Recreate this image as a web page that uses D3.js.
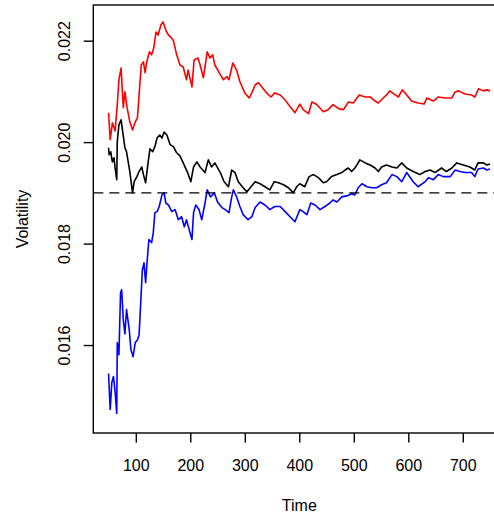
<!DOCTYPE html>
<html>
<head>
<meta charset="utf-8">
<script src="https://cdn.jsdelivr.net/npm/d3@7"></script>
<style>
  html, body { margin: 0; padding: 0; background: #fff; }
  svg { display: block; font-family: "Liberation Sans", Arial, Helvetica, sans-serif; }
</style>
</head>
<body>
<svg id="chart" width="494" height="520"></svg>
<script>
// Upper band (red)
const redTime = [50,53,57,62,66,69,73,77,80,84,89,94,99,103,106,110,114,117,120,125,129,133,137,141,146,150,155,160,165,169,175,181,187,193,196,203,207,214,218,224,231,236,241,245,255,261,267,271,278,285,291,300,308,313,319,325,331,340,348,355,365,374,383,392,401,407,417,423,432,444,453,462,472,481,490,499,510,521,530,539,545,554,560,566,576,582,589,597,606,618,629,634,646,655,667,680,686,692,704,716,722,729,738,744,750];
const redVol = [0.02058,0.02005,0.02038,0.02022,0.02074,0.02123,0.02146,0.02068,0.02099,0.02068,0.02040,0.02024,0.02040,0.02048,0.02093,0.02152,0.02158,0.02137,0.02158,0.02178,0.02172,0.02186,0.02217,0.02211,0.02231,0.02237,0.02221,0.02211,0.02206,0.02200,0.02172,0.02152,0.02148,0.02123,0.02142,0.02109,0.02162,0.02166,0.02152,0.02127,0.02178,0.02166,0.02172,0.02152,0.02133,0.02123,0.02129,0.02123,0.02156,0.02142,0.02119,0.02097,0.02087,0.02097,0.02113,0.02117,0.02109,0.02097,0.02089,0.02097,0.02093,0.02083,0.02070,0.02058,0.02075,0.02064,0.02056,0.02079,0.02074,0.02060,0.02064,0.02074,0.02066,0.02064,0.02079,0.02077,0.02093,0.02089,0.02089,0.02081,0.02077,0.02087,0.02093,0.02101,0.02093,0.02089,0.02103,0.02093,0.02081,0.02077,0.02075,0.02087,0.02081,0.02089,0.02087,0.02087,0.02099,0.02101,0.02095,0.02093,0.02089,0.02105,0.02101,0.02103,0.02101];

// Estimate (black)
const estTime = [50,51,54,57,60,62,65,66,69,73,76,80,83,89,94,97,102,106,111,114,118,122,126,131,135,139,144,148,152,157,163,169,175,181,187,195,201,206,212,218,227,233,239,245,255,262,270,276,282,288,297,304,310,319,328,337,346,354,362,371,380,389,395,401,410,418,426,435,444,450,459,469,478,484,490,496,502,508,511,521,530,539,545,551,560,570,579,588,597,609,621,631,640,649,661,670,680,689,701,713,722,728,738,744,750];
const estVol = [0.01989,0.01975,0.01981,0.01961,0.01969,0.01949,0.01926,0.02001,0.02034,0.02044,0.02020,0.01989,0.01981,0.01942,0.01900,0.01922,0.01932,0.01942,0.01951,0.01936,0.01920,0.01955,0.01987,0.01981,0.01991,0.02008,0.02014,0.02008,0.02020,0.02014,0.01995,0.01991,0.01979,0.01973,0.01959,0.01940,0.01922,0.01951,0.01961,0.01951,0.01940,0.01965,0.01951,0.01959,0.01940,0.01922,0.01912,0.01945,0.01940,0.01922,0.01910,0.01902,0.01910,0.01922,0.01918,0.01912,0.01906,0.01922,0.01920,0.01916,0.01910,0.01900,0.01912,0.01918,0.01912,0.01932,0.01936,0.01930,0.01920,0.01922,0.01932,0.01936,0.01940,0.01945,0.01949,0.01942,0.01949,0.01959,0.01965,0.01959,0.01955,0.01949,0.01942,0.01951,0.01955,0.01951,0.01949,0.01959,0.01949,0.01942,0.01936,0.01942,0.01945,0.01940,0.01949,0.01942,0.01949,0.01959,0.01955,0.01951,0.01945,0.01959,0.01959,0.01955,0.01957];

// Lower band (blue)
const blueTime = [50,53,56,59,62,65,66,69,72,74,77,80,83,88,91,95,99,103,106,109,112,115,118,120,124,129,132,135,139,143,148,152,155,160,166,172,178,184,189,193,198,203,206,210,216,221,227,231,237,244,250,258,264,271,276,279,285,291,297,306,313,319,328,337,346,355,365,374,383,392,401,407,414,421,429,438,447,456,462,469,478,487,496,502,508,515,524,533,542,551,560,570,579,588,597,609,618,631,637,646,655,664,677,686,695,704,716,722,728,738,744,750];
const blueVol = [0.01544,0.01473,0.01526,0.01538,0.01508,0.01465,0.01605,0.01581,0.01703,0.01709,0.01650,0.01622,0.01670,0.01630,0.01591,0.01577,0.01605,0.01610,0.01620,0.01683,0.01748,0.01762,0.01723,0.01754,0.01808,0.01802,0.01821,0.01861,0.01863,0.01873,0.01896,0.01900,0.01880,0.01876,0.01863,0.01867,0.01847,0.01853,0.01833,0.01847,0.01827,0.01808,0.01861,0.01876,0.01867,0.01847,0.01880,0.01906,0.01892,0.01900,0.01882,0.01871,0.01867,0.01861,0.01892,0.01906,0.01892,0.01873,0.01857,0.01847,0.01853,0.01871,0.01882,0.01876,0.01867,0.01873,0.01873,0.01863,0.01853,0.01843,0.01867,0.01863,0.01857,0.01880,0.01876,0.01867,0.01873,0.01880,0.01886,0.01882,0.01892,0.01894,0.01898,0.01896,0.01910,0.01918,0.01912,0.01910,0.01910,0.01916,0.01920,0.01936,0.01932,0.01922,0.01940,0.01922,0.01912,0.01922,0.01930,0.01926,0.01936,0.01932,0.01932,0.01945,0.01942,0.01940,0.01940,0.01932,0.01947,0.01949,0.01945,0.01947];

const refLevel = 0.019;
const xTicks = [100, 200, 300, 400, 500, 600, 700];
const yTicks = [0.016, 0.018, 0.020, 0.022];
const xTitle = 'Time';
const yTitle = 'Volatility';

const svg = d3.select('#chart');

// plot region (right edge runs past the window, as in the original)
const plotLeft = 93.3, plotRight = 505.3, plotTop = 5, plotBottom = 433;
const fontSize = 16;
const tickLen = 9.6;

const x = d3.scaleLinear().domain([22, 778]).range([plotLeft, plotRight]);
const y = d3.scaleLinear().domain([0.014266, 0.022703]).range([plotBottom, plotTop]);

const series = [
    { time: estTime, vol: estVol, color: '#000000' },
    { time: redTime, vol: redVol, color: '#ff0000' },
    { time: blueTime, vol: blueVol, color: '#0000ff' }
];

const line = d3.line()
    .x(d => x(d[0]))
    .y(d => y(d[1]));

series.forEach(s => {
    svg.append('path')
        .datum(s.time.map((t, i) => [t, s.vol[i]]))
        .attr('fill', 'none')
        .attr('stroke', s.color)
        .attr('stroke-width', 1.6)
        .attr('stroke-linejoin', 'round')
        .attr('d', line);
});

// dashed reference level
svg.append('line')
    .attr('x1', plotLeft).attr('x2', plotRight)
    .attr('y1', y(refLevel)).attr('y2', y(refLevel))
    .attr('stroke', '#000')
    .attr('stroke-width', 1.4)
    .attr('stroke-dasharray', '10,6');

// box
svg.append('rect')
    .attr('x', plotLeft).attr('y', plotTop)
    .attr('width', plotRight - plotLeft).attr('height', plotBottom - plotTop)
    .attr('fill', 'none')
    .attr('stroke', '#000')
    .attr('stroke-width', 1.4);

// x axis
const gx = svg.append('g')
    .attr('transform', `translate(0,${plotBottom})`)
    .call(d3.axisBottom(x).tickValues(xTicks).tickSize(tickLen).tickSizeOuter(0).tickFormat(d3.format('d')));
gx.select('.domain').remove();
gx.selectAll('line').attr('stroke', '#000').attr('stroke-width', 1.4);
gx.selectAll('text')
    .attr('y', 37.7).attr('dy', null)
    .attr('fill', '#000')
    .style('font-size', fontSize + 'px')
    .style('font-family', '"Liberation Sans", Arial, Helvetica, sans-serif');

// y axis
const gy = svg.append('g')
    .attr('transform', `translate(${plotLeft},0)`)
    .call(d3.axisLeft(y).tickValues(yTicks).tickSize(tickLen).tickSizeOuter(0).tickFormat(d3.format('.3f')));
gy.select('.domain').remove();
gy.selectAll('line').attr('stroke', '#000').attr('stroke-width', 1.4);
gy.selectAll('text')
    .attr('transform', 'rotate(-90)')
    .attr('x', 0).attr('y', -(plotLeft - 70)).attr('dy', null)
    .attr('text-anchor', 'middle')
    .attr('fill', '#000')
    .style('font-size', fontSize + 'px')
    .style('font-family', '"Liberation Sans", Arial, Helvetica, sans-serif');

// axis titles
svg.append('text')
    .attr('x', (plotLeft + plotRight) / 2)
    .attr('y', 510.7)
    .attr('text-anchor', 'middle')
    .style('font-size', fontSize + 'px')
    .text(xTitle);

svg.append('text')
    .attr('transform', `translate(28.2,${(plotTop + plotBottom) / 2}) rotate(-90)`)
    .attr('text-anchor', 'middle')
    .style('font-size', fontSize + 'px')
    .text(yTitle);
</script>
</body>
</html>
